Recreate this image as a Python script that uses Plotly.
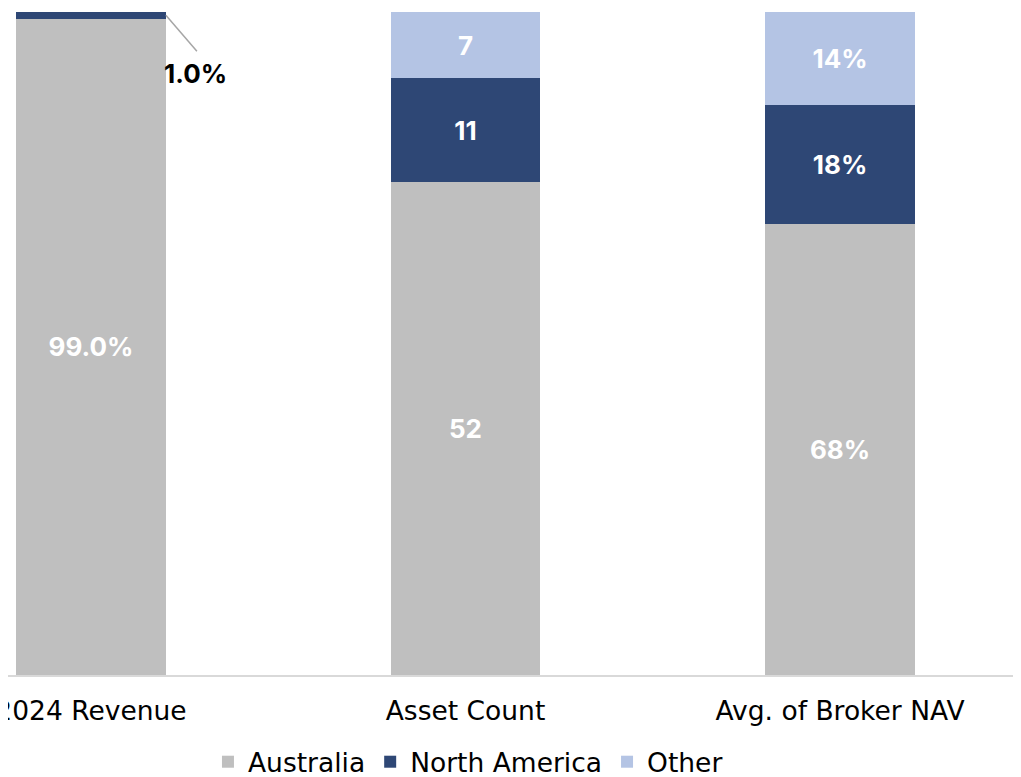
import plotly.graph_objects as go

categories = ["2024 Revenue", "Asset Count", "Avg. of Broker NAV"]
australia = [99.0, 52, 68]
north_america = [1.0, 11, 18]
other = [0.0, 7, 14]
australia_text = ["99.0%", "52", "68%"]
north_america_text = ["", "11", "18%"]
other_text = ["", "7", "14%"]
callout_text = "1.0%"

LABEL_FONT = "Inter"
AXIS_FONT = "DejaVu Sans"
fig = go.Figure()
series = [
    ("Australia", australia, australia_text, "#BFBFBF"),
    ("North America", north_america, north_america_text, "#2E4775"),
    ("Other", other, other_text, "#B4C4E4"),
]
for name, vals, txt, col in series:
    fig.add_trace(go.Bar(
        name=name, x=categories, y=vals, text=txt,
        marker=dict(color=col, line=dict(width=0)),
        textposition="inside", insidetextanchor="middle",
        textangle=0,
        textfont=dict(family=LABEL_FONT, size=26, color="white", weight="bold"),
        constraintext="none",
        width=0.4,
    ))

# callout for the thin North America slice of the first bar
rev_total = australia[0] + north_america[0] + other[0]
tip_y = 100 - (north_america[0] / rev_total * 100) / 2
fig.add_shape(
    type="line", xref="x", yref="y",
    xsizemode="pixel", ysizemode="pixel",
    xanchor=0.2, yanchor=tip_y,
    x0=0, x1=31, y0=0, y1=-36,
    line=dict(color="#A6A6A6", width=1.5),
)
fig.add_annotation(
    x=0.2, y=tip_y, xref="x", yref="y",
    text=callout_text, showarrow=False,
    xshift=30, yshift=-58,
    font=dict(family=LABEL_FONT, size=26, color="black", weight="bold"),
)

fig.update_layout(
    barmode="stack", barnorm="percent",
    width=1021, height=790,
    margin=dict(l=0, r=0, t=4, b=123),
    plot_bgcolor="white", paper_bgcolor="white",
    showlegend=True,
    legend=dict(orientation="h", x=0.4505, xanchor="center", y=-0.095, yanchor="top",
                font=dict(family=AXIS_FONT, size=26.5, color="black"),
                traceorder="normal", itemclick=False),
    font=dict(family=AXIS_FONT),
)
fig.update_xaxes(range=[-0.2216, 2.5046], showline=True, linecolor="#D9D9D9", linewidth=2,
                 tickfont=dict(family=AXIS_FONT, size=26.5, color="black"), ticks="",
                 ticklabelstandoff=11, showgrid=False, automargin=False)
fig.update_yaxes(range=[0, 100], visible=False, showgrid=False, automargin=False)

fig.write_html("out.html")
